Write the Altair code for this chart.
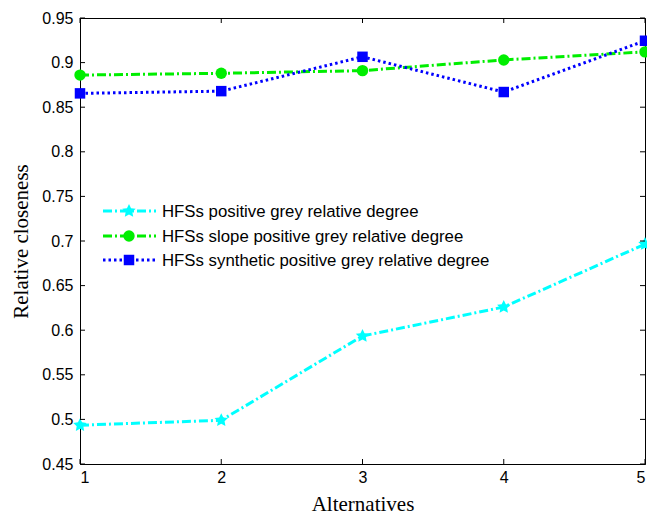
import altair as alt
import pandas as pd

alternatives = [1, 2, 3, 4, 5]
series_names = [
    "HFSs positive grey relative degree",
    "HFSs slope positive grey relative degree",
    "HFSs synthetic positive grey relative degree",
]
positive = [0.4935, 0.499, 0.5935, 0.626, 0.6965]
slope = [0.886, 0.888, 0.891, 0.903, 0.912]
synthetic = [0.8655, 0.868, 0.9065, 0.867, 0.9245]
y_ticks = [0.45, 0.5, 0.55, 0.6, 0.65, 0.7, 0.75, 0.8, 0.85, 0.9, 0.95]
x_ticks = [1, 2, 3, 4, 5]

colors = ["#00FFFF", "#00EE00", "#0000FF"]
dashes = [[9, 3, 2, 3], [9, 3, 2, 3], [2.5, 3]]
shapes = ["M0,-1L0.29,-0.4L0.95,-0.31L0.47,0.15L0.59,0.81L0,0.5L-0.59,0.81L-0.47,0.15L-0.95,-0.31L-0.29,-0.4Z",
          "circle", "square"]
sizes = [200, 130, 110]

W, H = 565, 446
xs = alt.Scale(domain=[1, 5], nice=False, zero=False)
ys = alt.Scale(domain=[0.45, 0.95], nice=False, zero=False)

layers = []
all_vals = [positive, slope, synthetic]
for i in range(3):
    df = pd.DataFrame({"x": alternatives, "y": all_vals[i]})
    base = alt.Chart(df)
    line = base.mark_line(color=colors[i], strokeWidth=3, strokeDash=dashes[i], clip=False).encode(
        x=alt.X("x:Q", scale=xs, axis=alt.Axis(values=x_ticks, format="d", title="Alternatives")),
        y=alt.Y("y:Q", scale=ys, axis=alt.Axis(values=y_ticks, format="~g", title="Relative closeness")),
    )
    pts = base.mark_point(shape=shapes[i], filled=True, color=colors[i], opacity=1, size=sizes[i]).encode(
        x=alt.X("x:Q", scale=xs), y=alt.Y("y:Q", scale=ys)
    )
    layers += [line, pts]

# inward ticks (MATLAB style box)
tx = pd.DataFrame({"x": x_ticks})
tick_len_y = 0.5 / H * 5
tick_len_x = 4.0 / W * 5
tickx_b = alt.Chart(tx).transform_calculate(y0="0.45", y1=f"0.45+{tick_len_y}").mark_rule(color="black").encode(
    x=alt.X("x:Q", scale=xs), y=alt.Y("y0:Q", scale=ys), y2="y1:Q")
tickx_t = alt.Chart(tx).transform_calculate(y0="0.95", y1=f"0.95-{tick_len_y}").mark_rule(color="black").encode(
    x=alt.X("x:Q", scale=xs), y=alt.Y("y0:Q", scale=ys), y2="y1:Q")
ty = pd.DataFrame({"y": y_ticks})
ticky_l = alt.Chart(ty).transform_calculate(x0="1", x1=f"1+{tick_len_x}").mark_rule(color="black").encode(
    y=alt.Y("y:Q", scale=ys), x=alt.X("x0:Q", scale=xs), x2="x1:Q")
ticky_r = alt.Chart(ty).transform_calculate(x0="5", x1=f"5-{tick_len_x}").mark_rule(color="black").encode(
    y=alt.Y("y:Q", scale=ys), x=alt.X("x0:Q", scale=xs), x2="x1:Q")
layers += [tickx_b, tickx_t, ticky_l, ticky_r]

# manual legend (line + marker + label), placed in pixel space
leg_y = [193, 218, 242]
for i in range(3):
    one = alt.Chart(pd.DataFrame({"label": [series_names[i]]}))
    layers.append(one.mark_rule(color=colors[i], strokeWidth=3, strokeDash=dashes[i]).encode(
        x=alt.value(23), x2=alt.value(76), y=alt.value(leg_y[i])))
    layers.append(one.mark_point(shape=shapes[i], filled=True, color=colors[i], opacity=1, size=sizes[i]).encode(
        x=alt.value(49), y=alt.value(leg_y[i])))
    layers.append(one.mark_text(align="left", baseline="middle", font="Liberation Sans", fontSize=16.8,
                                color="black").encode(x=alt.value(82), y=alt.value(leg_y[i] + 1), text="label:N"))

chart = alt.layer(*layers).properties(
    width=W, height=H,
    autosize=alt.AutoSizeParams(type="none"),
    padding={"left": 80, "top": 18, "right": 2, "bottom": 52},
).configure_view(stroke="black", strokeWidth=1).configure_axis(
    domainColor="black", domainWidth=1, ticks=False, grid=False,
    labelFont="Liberation Sans", labelFontSize=16, labelColor="black",
    titleFont="Liberation Serif", titleFontSize=21, titleFontWeight="normal", titleColor="black",
).configure_axisX(labelPadding=5, titlePadding=8).configure_axisY(labelPadding=7, titlePadding=10)

chart.save("out.html", embed_options={"renderer": "svg", "actions": False})
